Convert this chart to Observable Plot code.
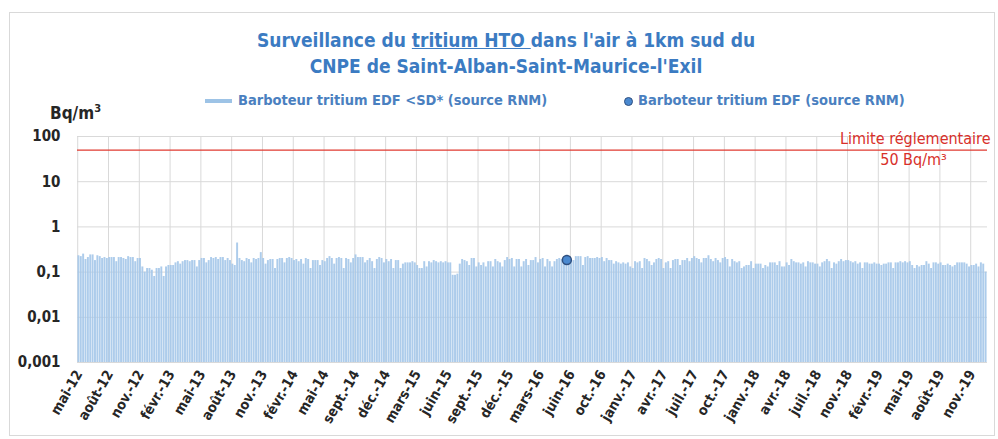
<!DOCTYPE html>
<html><head><meta charset="utf-8">
<script src="https://cdn.jsdelivr.net/npm/d3@7"></script>
<script src="https://cdn.jsdelivr.net/npm/@observablehq/plot@0.6"></script>
<style>
body{margin:0;background:#fff;}
#wrap{position:relative;width:998px;height:439px;overflow:hidden;font-family:'Liberation Sans Narrow','DejaVu Sans Condensed','Open Sans',sans-serif;}
#border{position:absolute;left:9px;top:12px;width:986px;height:424px;border:1px solid #d9d9d9;box-sizing:border-box;}
.title{position:absolute;left:0;width:1012px;text-align:center;color:#3b7bc2;font-weight:bold;font-size:19px;white-space:nowrap;}
.leg{position:absolute;top:92px;color:#4a80c0;font-weight:bold;font-size:14.5px;white-space:nowrap;}
#unit{position:absolute;left:50px;top:102px;font-weight:bold;font-size:17px;color:#262626;}
svg{position:absolute;left:0;top:0;}
</style></head><body><div id="wrap">
<div id="border"></div>
<div class="title" style="top:29px">Surveillance du <span style="text-decoration:underline">tritium HTO </span>dans l'air à 1km sud du</div>
<div class="title" style="top:55px">CNPE de Saint-Alban-Saint-Maurice-l'Exil</div>
<div class="leg" style="left:205px"><span style="display:inline-block;width:27px;height:4px;background:#9dc3e6;vertical-align:middle;margin-right:6px"></span>Barboteur tritium EDF &lt;SD* (source RNM)</div>
<div class="leg" style="left:624px"><span style="display:inline-block;width:9px;height:9px;border-radius:50%;background:#4a89d0;border:1.5px solid #2f4f7f;vertical-align:middle;margin-right:5px;box-sizing:border-box"></span>Barboteur tritium EDF (source RNM)</div>
<div id="unit">Bq/m<sup style="font-size:11px">3</sup></div>
</div>
<script>
// weekly values below the detection limit (<SD), Bq/m3
const values = [
0.23,0.22,0.25,0.19,0.21,0.24,0.24,0.18,0.23,0.22,0.2,0.21,0.2,
0.21,0.21,0.21,0.17,0.21,0.21,0.2,0.19,0.22,0.21,0.21,0.17,0.2,
0.2,0.13,0.1,0.12,0.12,0.11,0.08,0.12,0.12,0.13,0.08,0.13,0.14,
0.14,0.14,0.16,0.17,0.15,0.17,0.18,0.18,0.17,0.18,0.18,0.13,0.18,
0.2,0.2,0.16,0.18,0.21,0.2,0.21,0.19,0.21,0.21,0.18,0.2,0.18,
0.15,0.14,0.44,0.2,0.18,0.17,0.2,0.19,0.16,0.2,0.19,0.2,0.27,
0.2,0.15,0.18,0.19,0.19,0.12,0.19,0.2,0.2,0.16,0.2,0.21,0.2,
0.18,0.19,0.17,0.19,0.15,0.2,0.19,0.12,0.18,0.18,0.18,0.14,0.18,
0.17,0.2,0.22,0.2,0.15,0.2,0.21,0.2,0.12,0.2,0.19,0.16,0.2,
0.24,0.21,0.21,0.21,0.16,0.18,0.2,0.17,0.12,0.19,0.21,0.2,0.16,
0.19,0.17,0.19,0.12,0.18,0.18,0.12,0.15,0.16,0.16,0.16,0.17,0.16,
0.14,0.12,0.12,0.17,0.13,0.17,0.16,0.18,0.17,0.16,0.17,0.16,0.17,
0.16,0.16,0.085,0.085,0.09,0.15,0.19,0.18,0.17,0.14,0.2,0.2,0.13,
0.16,0.14,0.16,0.13,0.17,0.17,0.13,0.19,0.17,0.16,0.13,0.18,0.21,
0.19,0.2,0.13,0.19,0.19,0.13,0.17,0.19,0.14,0.18,0.18,0.21,0.16,
0.19,0.2,0.13,0.19,0.17,0.13,0.17,0.19,0.2,0.19,0.17,0.17,0.18,
0.18,0.18,0.22,0.22,0.22,0.14,0.21,0.22,0.2,0.2,0.2,0.21,0.2,
0.21,0.17,0.2,0.18,0.18,0.15,0.17,0.16,0.15,0.16,0.15,0.16,0.13,
0.12,0.17,0.16,0.17,0.12,0.2,0.19,0.17,0.14,0.16,0.19,0.2,0.19,
0.12,0.16,0.17,0.12,0.18,0.19,0.19,0.14,0.18,0.18,0.2,0.17,0.2,
0.22,0.2,0.19,0.16,0.2,0.2,0.23,0.19,0.17,0.2,0.18,0.16,0.2,
0.21,0.19,0.13,0.19,0.17,0.16,0.17,0.12,0.13,0.14,0.14,0.17,0.12,
0.15,0.15,0.15,0.12,0.14,0.13,0.16,0.16,0.16,0.14,0.17,0.13,0.13,
0.16,0.14,0.19,0.17,0.16,0.16,0.15,0.16,0.13,0.17,0.16,0.16,0.15,
0.15,0.13,0.16,0.17,0.19,0.17,0.12,0.16,0.15,0.17,0.19,0.17,0.18,
0.18,0.17,0.16,0.17,0.15,0.16,0.12,0.16,0.16,0.15,0.15,0.16,0.15,
0.15,0.14,0.15,0.15,0.16,0.16,0.12,0.16,0.16,0.17,0.16,0.17,0.16,
0.17,0.14,0.12,0.14,0.13,0.14,0.14,0.17,0.15,0.12,0.16,0.16,0.15,
0.16,0.14,0.14,0.15,0.14,0.13,0.14,0.16,0.16,0.16,0.16,0.15,0.13,
0.14,0.14,0.15,0.13,0.16,0.15,0.1
];
const tickLabels = ["mai-12","août-12","nov.-12","févr.-13","mai-13","août-13","nov.-13","févr.-14","mai-14","sept.-14","déc.-14","mars-15","juin-15","sept.-15","déc.-15","mars-16","juin-16","oct.-16","janv.-17","avr.-17","juil.-17","oct.-17","janv.-18","avr.-18","juil.-18","nov.-18","févr.-19","mai-19","août-19","nov.-19"];
const tickStep = 13;
const measuredIndex = [206];
const measuredValue = [0.185];
const limitValue = 50;
const yTicks = [100, 10, 1, 0.1, 0.01, 0.001];

const FONT = "'Liberation Sans Narrow','DejaVu Sans Condensed','Open Sans',sans-serif";
const bars = values.map((v, i) => ({i, v}));
const points = measuredIndex.map((i, k) => ({i, v: measuredValue[k]}));
const tickIdx = tickLabels.map((_, k) => k * tickStep);
const band = (998 - 77 - 11) / values.length;

const chart = Plot.plot({
  width: 998, height: 439,
  marginLeft: 77, marginRight: 11, marginTop: 136, marginBottom: 77,
  style: {fontFamily: FONT, background: "transparent", overflow: "visible"},
  x: {type: "band", domain: d3.range(values.length), padding: 0.18, axis: null},
  y: {type: "log", domain: [0.001, 100], axis: null},
  marks: [
    Plot.gridY(yTicks, {stroke: "#d9d9d9", strokeOpacity: 1}),
    Plot.ruleX(tickIdx, {x: d => d, stroke: "#d9d9d9", dx: -band / 2}),
    Plot.barY(bars, {x: "i", y1: 0.001, y2: "v", fill: "#a4c7e9", fillOpacity: 0.9}),
    Plot.ruleY([limitValue], {y: d => d, stroke: "#e03a30", strokeWidth: 1.3}),
    Plot.text([limitValue], {y: d => d, frameAnchor: "right", text: () => "Limite réglementaire", textAnchor: "end", dx: 3, dy: -11, fill: "#d8302a", fontSize: 16}),
    Plot.text([limitValue], {y: d => d, frameAnchor: "right", text: () => "50 Bq/m³", textAnchor: "middle", dx: -74, dy: 10, fill: "#d8302a", fontSize: 16}),
    Plot.dot(points, {x: "i", y: "v", r: 4.5, fill: "#4a89d0", stroke: "#2f4f7f", strokeWidth: 1.5}),
    Plot.axisY(yTicks, {label: null, tickSize: 0, tickPadding: 17, fontSize: 15, fontWeight: "bold", fill: "#262626", tickFormat: d => String(d).replace(".", ",")}),
    Plot.axisX(tickIdx, {label: null, tickSize: 0, tickPadding: 9, tickRotate: -60, fontSize: 14, fontWeight: "bold", fill: "#262626", tickFormat: i => tickLabels[i / tickStep]})
  ]
});
document.getElementById("wrap").appendChild(chart);
</script>
</body></html>
